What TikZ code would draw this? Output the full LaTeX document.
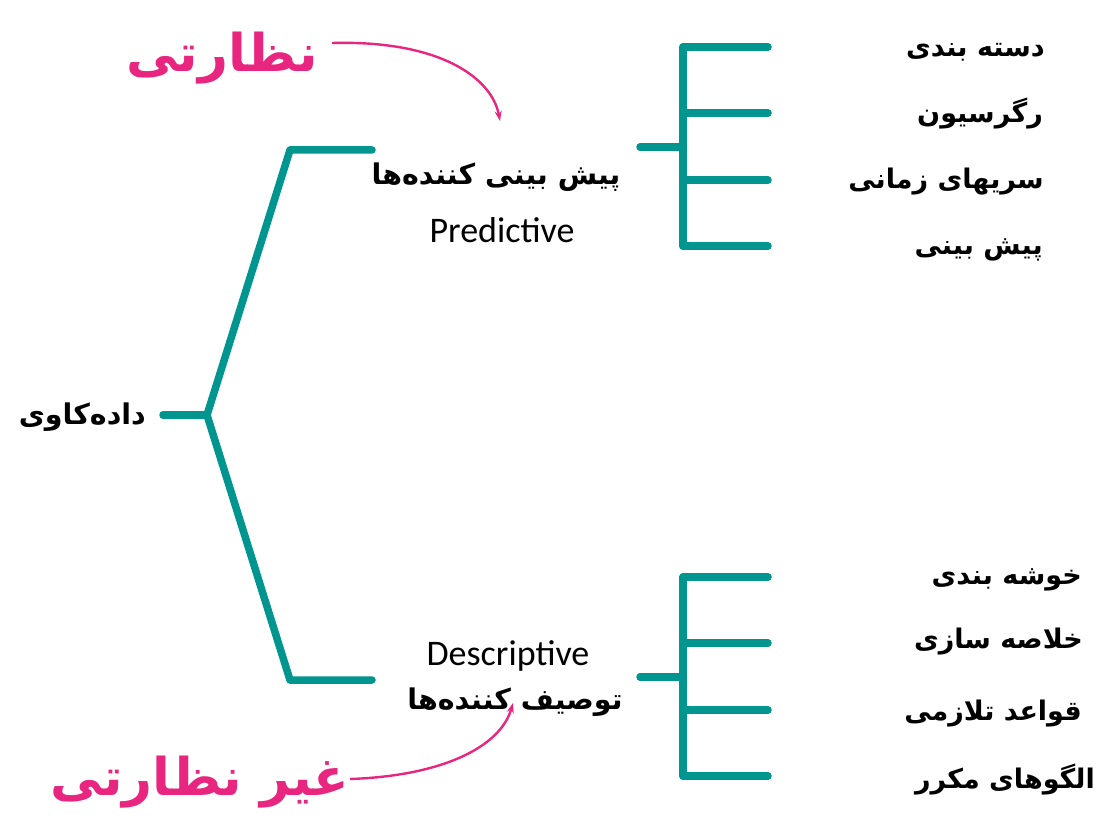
\documentclass[tikz,border=0pt]{standalone}
\usepackage{fontspec}
\usetikzlibrary{arrows.meta}
\TeXXeTstate=1
\newfontfamily\fafont[Script=Arabic]{DejaVu Sans}
\newfontfamily\latfont{Carlito}
\definecolor{branchcol}{RGB}{0,150,143}
\definecolor{accent}{RGB}{232,38,128}
\begin{document}
\begin{tikzpicture}[x=1pt,y=-1pt,
  branch/.style={draw=branchcol, line width=7.5pt, line cap=round, line join=round},
  fatext/.style={inner sep=0pt, font=\fafont\bfseries\fontsize{27}{32}\selectfont},
  midtext/.style={inner sep=0pt, font=\fafont\bfseries\fontsize{28.5}{34}\selectfont},
  lattext/.style={inner sep=0pt, font=\latfont\fontsize{36}{42}\selectfont},
  bigtext/.style={inner sep=0pt, text=accent, font=\fafont\bfseries\fontsize{52}{60}\selectfont},
  pointer/.style={draw=accent, line width=2.4pt, -{Stealth[length=10pt,width=7pt]}}]
\useasboundingbox (0,0) rectangle (1109,834);

% root and the two main branches
\node[midtext, anchor=east] (root) at (146,417) {\beginR داده‌کاوی\endR};
\coordinate (rootstub) at (163,415);
\coordinate (fork) at (207,415);
\coordinate (upbend) at (290,150);
\coordinate (upend) at (372,150);
\coordinate (lowbend) at (290,680);
\coordinate (lowend) at (372,680);
\draw[branch] (rootstub) -- (fork);
\draw[branch] (fork) -- (upbend) -- (upend);
\draw[branch] (fork) -- (lowbend) -- (lowend);

% category labels
\node[midtext] (pred) at (496,177) {\beginR پیش بینی کننده‌ها\endR};
\node[lattext] (predlat) at (502,230) {Predictive};
\node[lattext] (desclat) at (508,656) {Descriptive};
\node[midtext] (desc) at (515,702) {\beginR توصیف کننده‌ها\endR};

% upper bracket
\coordinate (ua) at (640,147);
\coordinate (ub) at (683,147);
\coordinate (ut) at (683,47);
\coordinate (ubt) at (683,246);
\draw[branch] (ua) -- (ub);
\draw[branch] (ut) -- (ubt);
\foreach \yy/\nm in {47/t1,113/t2,180/t3,246/t4}{
  \coordinate (u\nm) at (683,\yy);
  \coordinate (e\nm) at (768,\yy);
  \draw[branch] (u\nm) -- (e\nm);
}
\node[fatext, anchor=east] (cls) at (1045,52) {\beginR دسته بندی\endR};
\node[fatext, anchor=east] (reg) at (1043,114) {\beginR رگرسیون\endR};
\node[fatext, anchor=east] (ts) at (1044,182) {\beginR سریهای زمانی\endR};
\node[fatext, anchor=east] (fc) at (1043,250) {\beginR پیش بینی\endR};

% lower bracket
\coordinate (la) at (640,677);
\coordinate (lb) at (683,677);
\coordinate (lt) at (683,577);
\coordinate (lbt) at (683,776);
\draw[branch] (la) -- (lb);
\draw[branch] (lt) -- (lbt);
\foreach \yy/\nm in {577/b1,643/b2,710/b3,776/b4}{
  \coordinate (l\nm) at (683,\yy);
  \coordinate (f\nm) at (768,\yy);
  \draw[branch] (l\nm) -- (f\nm);
}
\node[fatext, anchor=east] (clu) at (1082,580) {\beginR خوشه بندی\endR};
\node[fatext, anchor=east] (sum) at (1083,642) {\beginR خلاصه سازی\endR};
\node[fatext, anchor=east] (ass) at (1082,714) {\beginR قواعد تلازمی\endR};
\node[fatext, anchor=east] (pat) at (1095,780) {\beginR الگوهای مکرر\endR};

% learning type annotations
\node[bigtext] (sup) at (222,58) {\beginR نظارتی\endR};
\node[bigtext] (unsup) at (200,782) {\beginR غیر نظارتی\endR};
\coordinate (supstart) at (332,43);
\coordinate (suptip) at (500,121);
\coordinate (unsupstart) at (350,779);
\coordinate (unsuptip) at (513,703);
\draw[pointer] (supstart) .. controls (440,40) and (492,78) .. (suptip);
\draw[pointer] (unsupstart) .. controls (440,776) and (500,748) .. (unsuptip);
\end{tikzpicture}
\end{document}
